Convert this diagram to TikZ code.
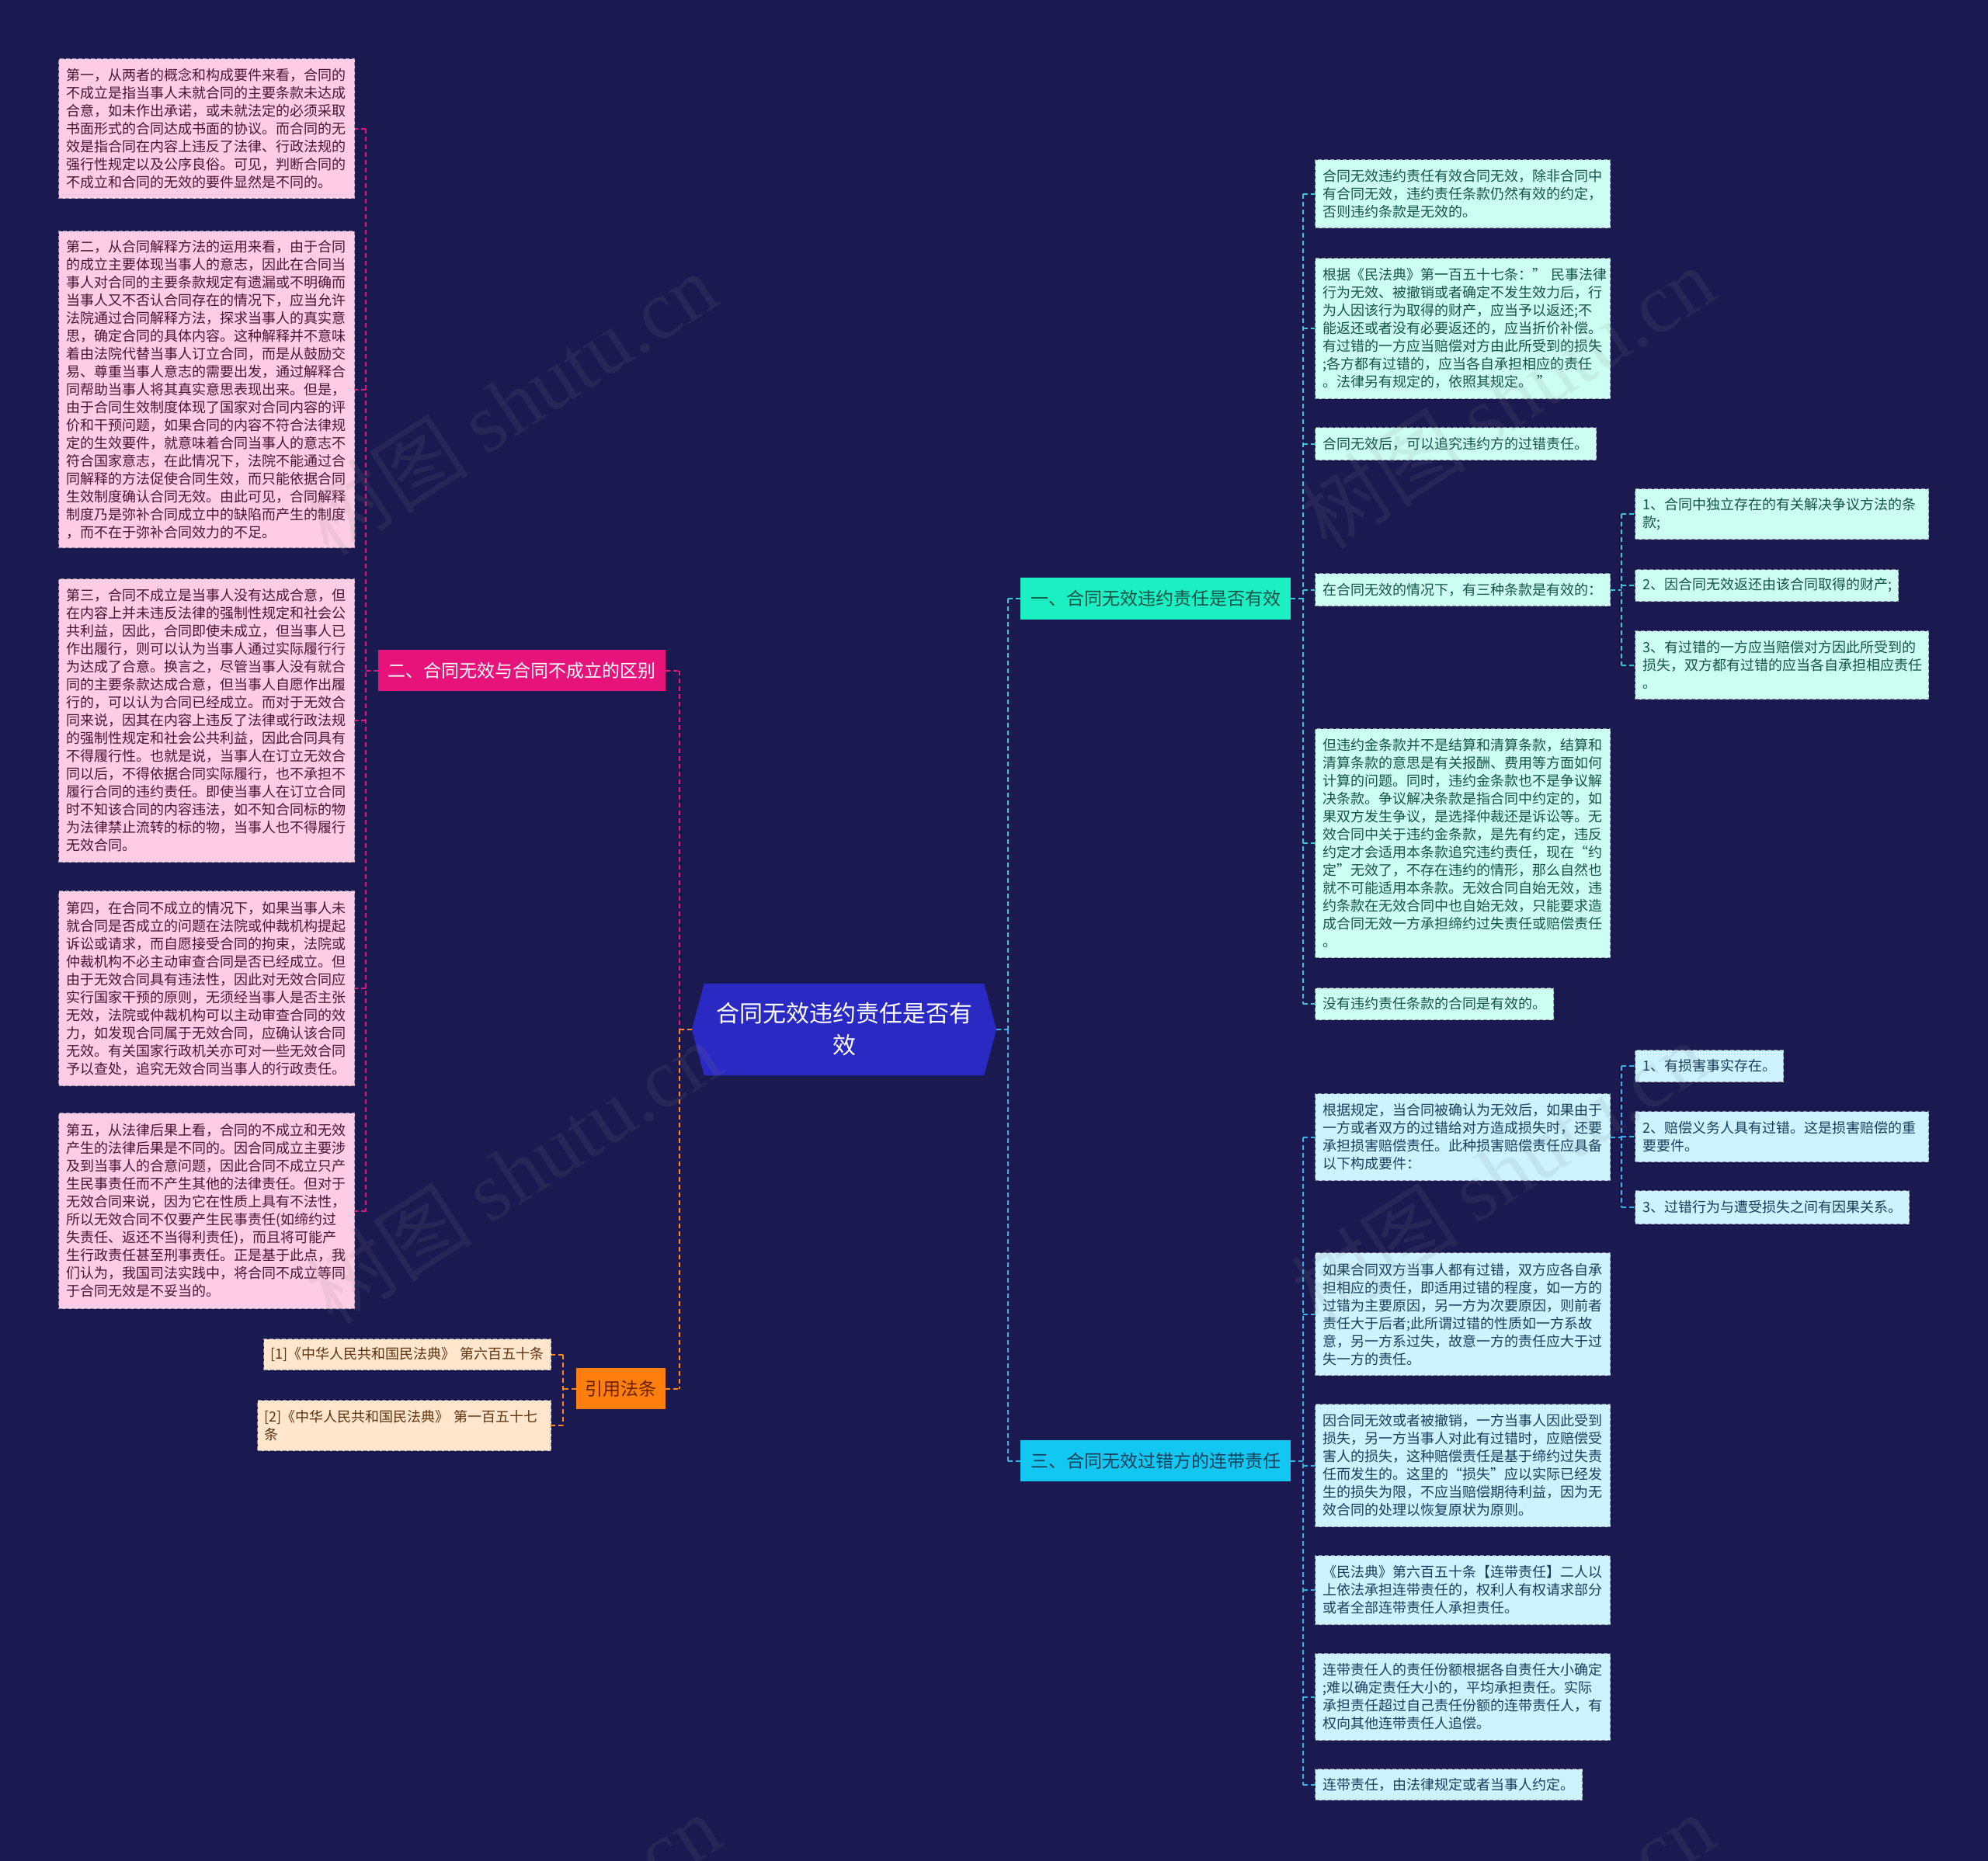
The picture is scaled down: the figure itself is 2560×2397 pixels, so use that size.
\documentclass[tikz,border=0pt]{standalone}
\usepackage{fontspec}
\setmainfont{Noto Sans CJK SC}
\newfontfamily\wmlatin{Liberation Serif}
\usetikzlibrary{backgrounds}
\definecolor{bgc}{HTML}{1A1950}
\definecolor{pinkF}{HTML}{FFCCE5}
\definecolor{pinkT}{HTML}{4A1535}
\definecolor{mintF}{HTML}{CCFFF2}
\definecolor{mintT}{HTML}{17524A}
\definecolor{cyanF}{HTML}{CCF3FF}
\definecolor{cyanT}{HTML}{173F5A}
\definecolor{peachF}{HTML}{FFE6CC}
\definecolor{peachT}{HTML}{5C3311}
\definecolor{bordc}{HTML}{8C8CA0}
\definecolor{brPink}{HTML}{E8137A}
\definecolor{brMint}{HTML}{1CEFC2}
\definecolor{brCyan}{HTML}{12C8F2}
\definecolor{brOrange}{HTML}{FF7F0E}
\definecolor{brOrangeT}{HTML}{6B1F00}
\definecolor{centerF}{HTML}{2A29C4}
\definecolor{lineP}{HTML}{E8157A}
\definecolor{lineO}{HTML}{FF8A1E}
\definecolor{lineT}{HTML}{3CC8D0}
\definecolor{lineB}{HTML}{34B4E8}
\tikzset{
  base/.style={rectangle, anchor=north west, inner ysep=0pt, inner xsep=10pt},
  leafbox/.style={base, draw=bordc, line width=1.2pt, dash pattern=on 5pt off 3pt, align=left, font=\fontsize{18pt}{23pt}\selectfont},
  leafP/.style={leafbox, fill=pinkF, text=pinkT},
  leafM/.style={leafbox, fill=mintF, text=mintT},
  leafC/.style={leafbox, fill=cyanF, text=cyanT},
  leafO/.style={leafbox, fill=peachF, text=peachT},
  brbox/.style={base, align=center, font=\fontsize{23pt}{28pt}\selectfont},
  lnbase/.style={line width=2pt, dash pattern=on 6pt off 4pt},
  lnP/.style={lnbase, draw=lineP},
  lnO/.style={lnbase, draw=lineO},
  lnT/.style={lnbase, draw=lineT},
  lnB/.style={lnbase, draw=lineB},
  wm/.style={rotate=33, text=gray, text opacity=0.13, font=\fontsize{108pt}{108pt}\selectfont},
}
\begin{document}
\begin{tikzpicture}[x=1pt,y=-1pt]
\useasboundingbox (0,0) rectangle (2560,2397);
\begin{scope}[on background layer]
\fill[bgc] (0,0) rectangle (2560,2397);
\end{scope}

% ---------- centre ----------
\node[rectangle, minimum width=392pt, minimum height=118pt, inner sep=0pt, text=white, align=center, font=\fontsize{30pt}{41pt}\selectfont] (C) at (1087,1326) {合同无效违约责任是否有\\效};
\begin{scope}[on background layer]
\fill[centerF] ([xshift=16pt]C.north west) -- ([xshift=-16pt]C.north east) -- (C.east) -- ([xshift=-16pt]C.south east) -- ([xshift=16pt]C.south west) -- (C.west) -- cycle;
\end{scope}

% ---------- branches ----------
\node[brbox, fill=brPink, text=white, minimum width=370pt, minimum height=53pt] (B2) at (487,837) {二、合同无效与合同不成立的区别};
\node[brbox, fill=brOrange, text=brOrangeT, minimum width=115pt, minimum height=53pt] (B4) at (742,1762) {引用法条};
\node[brbox, fill=brMint, text=mintT, minimum width=348pt, minimum height=54pt] (A1) at (1314,744) {一、合同无效违约责任是否有效};
\node[brbox, fill=brCyan, text=cyanT, minimum width=348pt, minimum height=53pt] (A3) at (1314,1855) {三、合同无效过错方的连带责任};

% ---------- left leaves ----------
\node[leafP, minimum width=381pt, minimum height=180pt, text width=361pt] (L1) at (75,75) {第一，从两者的概念和构成要件来看，合同的\\不成立是指当事人未就合同的主要条款未达成\\合意，如未作出承诺，或未就法定的必须采取\\书面形式的合同达成书面的协议。而合同的无\\效是指合同在内容上违反了法律、行政法规的\\强行性规定以及公序良俗。可见，判断合同的\\不成立和合同的无效的要件显然是不同的。};
\node[leafP, minimum width=381pt, minimum height=408pt, text width=361pt] (L2) at (75,297) {第二，从合同解释方法的运用来看，由于合同\\的成立主要体现当事人的意志，因此在合同当\\事人对合同的主要条款规定有遗漏或不明确而\\当事人又不否认合同存在的情况下，应当允许\\法院通过合同解释方法，探求当事人的真实意\\思，确定合同的具体内容。这种解释并不意味\\着由法院代替当事人订立合同，而是从鼓励交\\易、尊重当事人意志的需要出发，通过解释合\\同帮助当事人将其真实意思表现出来。但是，\\由于合同生效制度体现了国家对合同内容的评\\价和干预问题，如果合同的内容不符合法律规\\定的生效要件，就意味着合同当事人的意志不\\符合国家意志，在此情况下，法院不能通过合\\同解释的方法促使合同生效，而只能依据合同\\生效制度确认合同无效。由此可见，合同解释\\制度乃是弥补合同成立中的缺陷而产生的制度\\，而不在于弥补合同效力的不足。};
\node[leafP, minimum width=381pt, minimum height=365pt, text width=361pt] (L3) at (75,745) {第三，合同不成立是当事人没有达成合意，但\\在内容上并未违反法律的强制性规定和社会公\\共利益，因此，合同即使未成立，但当事人已\\作出履行，则可以认为当事人通过实际履行行\\为达成了合意。换言之，尽管当事人没有就合\\同的主要条款达成合意，但当事人自愿作出履\\行的，可以认为合同已经成立。而对于无效合\\同来说，因其在内容上违反了法律或行政法规\\的强制性规定和社会公共利益，因此合同具有\\不得履行性。也就是说，当事人在订立无效合\\同以后，不得依据合同实际履行，也不承担不\\履行合同的违约责任。即使当事人在订立合同\\时不知该合同的内容违法，如不知合同标的物\\为法律禁止流转的标的物，当事人也不得履行\\无效合同。};
\node[leafP, minimum width=381pt, minimum height=251pt, text width=361pt] (L4) at (75,1147) {第四，在合同不成立的情况下，如果当事人未\\就合同是否成立的问题在法院或仲裁机构提起\\诉讼或请求，而自愿接受合同的拘束，法院或\\仲裁机构不必主动审查合同是否已经成立。但\\由于无效合同具有违法性，因此对无效合同应\\实行国家干预的原则，无须经当事人是否主张\\无效，法院或仲裁机构可以主动审查合同的效\\力，如发现合同属于无效合同，应确认该合同\\无效。有关国家行政机关亦可对一些无效合同\\予以查处，追究无效合同当事人的行政责任。};
\node[leafP, minimum width=381pt, minimum height=252pt, text width=361pt] (L5) at (75,1433) {第五，从法律后果上看，合同的不成立和无效\\产生的法律后果是不同的。因合同成立主要涉\\及到当事人的合意问题，因此合同不成立只产\\生民事责任而不产生其他的法律责任。但对于\\无效合同来说，因为它在性质上具有不法性，\\所以无效合同不仅要产生民事责任(如缔约过\\失责任、返还不当得利责任)，而且将可能产\\生行政责任甚至刑事责任。正是基于此点，我\\们认为，我国司法实践中，将合同不成立等同\\于合同无效是不妥当的。};

% ---------- citations ----------
\node[leafO, minimum width=370pt, minimum height=40pt, text width=352pt, inner xsep=9pt] (C1) at (339,1724) {[1]《中华人民共和国民法典》~第六百五十条};
\node[leafO, minimum width=378pt, minimum height=65pt, text width=360pt, inner xsep=9pt] (C2) at (331,1803) {[2]《中华人民共和国民法典》~第一百五十七\\条};

% ---------- branch one leaves ----------
\node[leafM, minimum width=380pt, minimum height=88pt, text width=360pt] (R1) at (1693,205) {合同无效违约责任有效合同无效，除非合同中\\有合同无效，违约责任条款仍然有效的约定，\\否则违约条款是无效的。};
\node[leafM, minimum width=380pt, minimum height=181pt, text width=360pt] (R2) at (1693,332) {根据《民法典》第一百五十七条：”~民事法律\\行为无效、被撤销或者确定不发生效力后，行\\为人因该行为取得的财产，应当予以返还;不\\能返还或者没有必要返还的，应当折价补偿。\\有过错的一方应当赔偿对方由此所受到的损失\\;各方都有过错的，应当各自承担相应的责任\\。法律另有规定的，依照其规定。~”};
\node[leafM, minimum width=362pt, minimum height=42pt, text width=342pt] (R3) at (1693,550) {合同无效后，可以追究违约方的过错责任。};
\node[leafM, minimum width=380pt, minimum height=42pt, text width=360pt] (R4) at (1693,738) {在合同无效的情况下，有三种条款是有效的：};
\node[leafM, minimum width=378pt, minimum height=65pt, text width=358pt] (G1) at (2105,629) {1、合同中独立存在的有关解决争议方法的条\\款;};
\node[leafM, minimum width=339pt, minimum height=41pt, text width=319pt] (G2) at (2105,733) {2、因合同无效返还由该合同取得的财产;};
\node[leafM, minimum width=378pt, minimum height=88pt, text width=358pt] (G3) at (2105,812) {3、有过错的一方应当赔偿对方因此所受到的\\损失，双方都有过错的应当各自承担相应责任\\。};
\node[leafM, minimum width=380pt, minimum height=295pt, text width=360pt] (R5) at (1693,938) {但违约金条款并不是结算和清算条款，结算和\\清算条款的意思是有关报酬、费用等方面如何\\计算的问题。同时，违约金条款也不是争议解\\决条款。争议解决条款是指合同中约定的，如\\果双方发生争议，是选择仲裁还是诉讼等。无\\效合同中关于违约金条款，是先有约定，违反\\约定才会适用本条款追究违约责任，现在“约\\定”无效了，不存在违约的情形，那么自然也\\就不可能适用本条款。无效合同自始无效，违\\约条款在无效合同中也自始无效，只能要求造\\成合同无效一方承担缔约过失责任或赔偿责任\\。};
\node[leafM, minimum width=307pt, minimum height=41pt, text width=287pt] (R6) at (1693,1272) {没有违约责任条款的合同是有效的。};

% ---------- branch three leaves ----------
\node[leafC, minimum width=380pt, minimum height=112pt, text width=360pt] (S1) at (1693,1408) {根据规定，当合同被确认为无效后，如果由于\\一方或者双方的过错给对方造成损失时，还要\\承担损害赔偿责任。此种损害赔偿责任应具备\\以下构成要件：};
\node[leafC, minimum width=191pt, minimum height=41pt, text width=171pt] (H1) at (2105,1352) {1、有损害事实存在。};
\node[leafC, minimum width=378pt, minimum height=65pt, text width=358pt] (H2) at (2105,1431) {2、赔偿义务人具有过错。这是损害赔偿的重\\要要件。};
\node[leafC, minimum width=353pt, minimum height=43pt, text width=333pt] (H3) at (2105,1533) {3、过错行为与遭受损失之间有因果关系。};
\node[leafC, minimum width=380pt, minimum height=158pt, text width=360pt] (S2) at (1693,1613) {如果合同双方当事人都有过错，双方应各自承\\担相应的责任，即适用过错的程度，如一方的\\过错为主要原因，另一方为次要原因，则前者\\责任大于后者;此所谓过错的性质如一方系故\\意，另一方系过失，故意一方的责任应大于过\\失一方的责任。};
\node[leafC, minimum width=380pt, minimum height=158pt, text width=360pt] (S3) at (1693,1808) {因合同无效或者被撤销，一方当事人因此受到\\损失，另一方当事人对此有过错时，应赔偿受\\害人的损失，这种赔偿责任是基于缔约过失责\\任而发生的。这里的“损失”应以实际已经发\\生的损失为限，不应当赔偿期待利益，因为无\\效合同的处理以恢复原状为原则。};
\node[leafC, minimum width=380pt, minimum height=89pt, text width=360pt] (S4) at (1693,2003) {《民法典》第六百五十条【连带责任】二人以\\上依法承担连带责任的，权利人有权请求部分\\或者全部连带责任人承担责任。};
\node[leafC, minimum width=380pt, minimum height=112pt, text width=360pt] (S5) at (1693,2129) {连带责任人的责任份额根据各自责任大小确定\\;难以确定责任大小的，平均承担责任。实际\\承担责任超过自己责任份额的连带责任人，有\\权向其他连带责任人追偿。};
\node[leafC, minimum width=344pt, minimum height=40pt, text width=324pt] (S6) at (1693,2278) {连带责任，由法律规定或者当事人约定。};

% ---------- junction coordinates ----------
\coordinate (jL) at (471,0);
\coordinate (jCL) at (875,0);
\coordinate (jO) at (725,0);
\coordinate (jCR) at (1298,0);
\coordinate (jR) at (1678,0);
\coordinate (jG) at (2088,0);

% ---------- connectors: left ----------
\draw[lnP] (jL |- L1.east) -- (jL |- L5.east);
\foreach \n in {L1,L2,L3,L4,L5} \draw[lnP] (jL |- \n.east) -- (\n.east);
\draw[lnP] (B2.west) -- (jL |- B2.west);
\draw[lnP] (jCL |- B2.east) -- (jCL |- C.west);
\draw[lnP] (B2.east) -- (jCL |- B2.east);
\draw[lnO] (jCL |- C.west) -- (jCL |- B4.east);
\draw[lnO] (C.west) -- (jCL |- C.west);
\draw[lnO] (B4.east) -- (jCL |- B4.east);
\draw[lnO] (B4.west) -- (jO |- B4.west);
\draw[lnO] (jO |- C1.east) -- (jO |- C2.east);
\draw[lnO] (jO |- C1.east) -- (C1.east);
\draw[lnO] (jO |- C2.east) -- (C2.east);

% ---------- connectors: right ----------
\draw[lnB] (C.east) -- (jCR |- C.east);
\draw[lnT] (jCR |- A1.west) -- (jCR |- C.east);
\draw[lnB] (jCR |- C.east) -- (jCR |- A3.west);
\draw[lnT] (jCR |- A1.west) -- (A1.west);
\draw[lnB] (jCR |- A3.west) -- (A3.west);

\draw[lnT] (A1.east) -- (jR |- A1.east);
\draw[lnT] (jR |- R1.west) -- (jR |- R6.west);
\foreach \n in {R1,R2,R3,R4,R5,R6} \draw[lnT] (jR |- \n.west) -- (\n.west);
\draw[lnT] (R4.east) -- (jG |- R4.east);
\draw[lnT] (jG |- G1.west) -- (jG |- G3.west);
\foreach \n in {G1,G2,G3} \draw[lnT] (jG |- \n.west) -- (\n.west);

\draw[lnB] (A3.east) -- (jR |- A3.east);
\draw[lnB] (jR |- S1.west) -- (jR |- S6.west);
\foreach \n in {S1,S2,S3,S4,S5,S6} \draw[lnB] (jR |- \n.west) -- (\n.west);
\draw[lnB] (S1.east) -- (jG |- S1.east);
\draw[lnB] (jG |- H1.west) -- (jG |- H3.west);
\foreach \n in {H1,H2,H3} \draw[lnB] (jG |- \n.west) -- (\n.west);

% ---------- watermarks ----------
\node[wm] (wm1) at (655,520) {树图 {\wmlatin shutu.cn}};
\node[wm] (wm2) at (660,1510) {树图 {\wmlatin shutu.cn}};
\node[wm] (wm3) at (1940,512) {树图 {\wmlatin shutu.cn}};
\node[wm] (wm4) at (1930,1510) {树图 {\wmlatin shutu.cn}};
\node[wm] (wm5) at (660,2505) {树图 {\wmlatin shutu.cn}};
\node[wm] (wm6) at (1940,2505) {树图 {\wmlatin shutu.cn}};
\end{tikzpicture}
\end{document}
